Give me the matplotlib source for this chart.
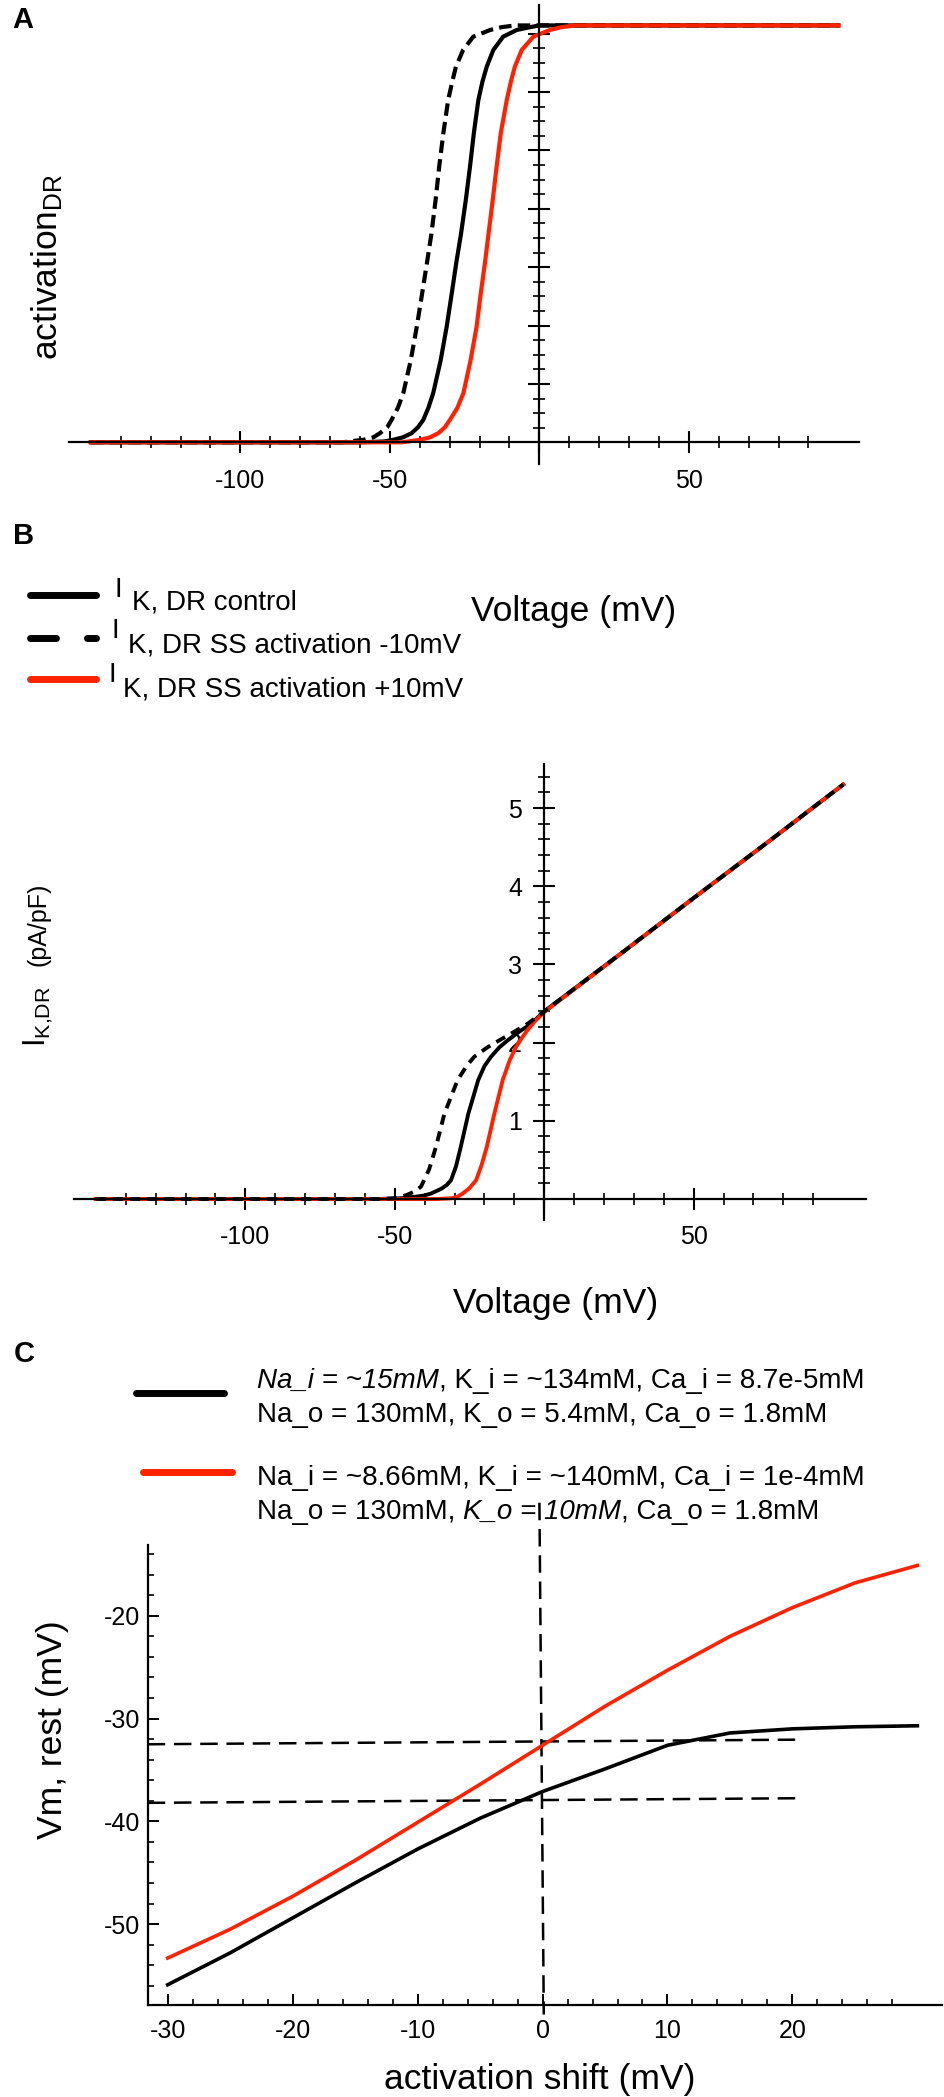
import matplotlib
matplotlib.use("Agg")
import matplotlib.pyplot as plt
from matplotlib.lines import Line2D
from matplotlib.ticker import FixedLocator, FixedFormatter, NullFormatter

plt.rcParams['font.family'] = ['Liberation Sans', 'DejaVu Sans']
plt.rcParams['mathtext.fontset'] = 'custom'
plt.rcParams['mathtext.rm'] = 'Liberation Sans'
plt.rcParams['mathtext.it'] = 'Liberation Sans:italic'
plt.rcParams['mathtext.bf'] = 'Liberation Sans:bold'
plt.rcParams['axes.unicode_minus'] = False

# ---- A: steady-state activation ----
volt_ctrl_a = [-150, -60, -52, -48.9, -45.6, -42.7, -40.6, -38.8, -37.1, -35.5, -33.0, -31.0,
               -29.3, -27.8, -26.2, -24.6, -23.2, -21.9, -20.4, -19.0, -17.6, -15.4, -12.1,
               -7.6, -3.0, 0, 100]
act_ctrl_a = [0, 0, 0.002, 0.006, 0.012, 0.022, 0.036, 0.054, 0.083, 0.118, 0.197, 0.277,
              0.357, 0.430, 0.500, 0.581, 0.661, 0.742, 0.821, 0.866, 0.901, 0.941, 0.973,
              0.989, 0.996, 1.0, 1.0]
volt_minus_a = [-150, -66, -58.9, -55.5, -53.3, -50.9, -49.4, -47.3, -45.5, -43.0, -41.0,
                -39.2, -37.6, -36.1, -34.7, -33.5, -32.1, -30.5, -29.1, -27.9, -25.5, -22.1,
                -16.5, -12.5, -8, 100]
act_minus_a = [0, 0, 0.006, 0.012, 0.022, 0.036, 0.054, 0.083, 0.118, 0.197, 0.277,
               0.357, 0.430, 0.500, 0.581, 0.661, 0.742, 0.821, 0.866, 0.901, 0.941, 0.973,
               0.989, 0.996, 1.0, 1.0]
volt_plus_a = [-150, -46, -39.9, -36.5, -33.8, -31.6, -29.9, -27.4, -25.4, -23.0, -21.0,
               -19.6, -18.2, -17.0, -15.6, -14.3, -12.9, -10.9, -9.5, -8.2, -5.9, -2.0,
               3.5, 7.5, 12, 100]
act_plus_a = [0, 0, 0.006, 0.012, 0.022, 0.036, 0.054, 0.083, 0.118, 0.197, 0.277,
              0.357, 0.430, 0.500, 0.581, 0.661, 0.742, 0.821, 0.866, 0.901, 0.941, 0.973,
              0.989, 0.996, 1.0, 1.0]

# ---- B: I_K,DR (pA/pF) ----
volt_ctrl_b = [-150, -56, -48, -43, -40.2, -37.9, -34.5, -32.6, -31.2, -29.5, -27.9, -25.4,
               -22.1, -20.0, -17.8, -15.0, -12.2, -8.0, -4.4, 0, 25, 50, 75, 100]
cur_ctrl_b = [0, 0, 0.01, 0.03, 0.045, 0.07, 0.13, 0.18, 0.24, 0.42, 0.67, 1.09,
              1.52, 1.70, 1.82, 1.94, 2.03, 2.15, 2.24, 2.40, 3.12, 3.85, 4.57, 5.30]
volt_plus_b = [-150, -36, -31, -29, -27.3, -25, -22.8, -21, -19.2, -16.7, -13.9, -11.5,
               -9.5, -7.5, -5.6, -3.2, -1.1, 0, 25, 50, 75, 100]
cur_plus_b = [0, 0, 0.01, 0.03, 0.07, 0.14, 0.24, 0.43, 0.67, 1.09, 1.52, 1.78,
              1.94, 2.06, 2.16, 2.27, 2.35, 2.39, 3.12, 3.85, 4.57, 5.30]
volt_minus_b = [-150, -55, -50, -47.6, -45.5, -43.2, -41.2, -38.5, -36.2, -33.4, -29.0,
                -26.0, -23.4, -19.0, -15.0, -10.0, -5.6, 0, 25, 50, 75, 100]
cur_minus_b = [0, 0, 0.01, 0.03, 0.06, 0.10, 0.16, 0.38, 0.67, 1.09, 1.52,
               1.70, 1.82, 1.94, 2.03, 2.14, 2.24, 2.40, 3.12, 3.85, 4.57, 5.30]

# ---- C: resting potential vs activation shift ----
shift_c = [-30, -25, -20, -15, -10, -5, 0, 5, 10, 15, 20, 25, 30]
vm_ctrl_c = [-55.9, -52.8, -49.4, -46.0, -42.7, -39.7, -37.1, -34.9, -32.6, -31.4, -31.0, -30.8, -30.7]
vm_highk_c = [-53.3, -50.5, -47.3, -43.8, -40.1, -36.4, -32.6, -28.8, -25.3, -22.0, -19.2, -16.8, -15.1]
guide_hi_x, guide_hi_y = [-31.6, 20.7], [-32.5, -32.05]
guide_lo_x, guide_lo_y = [-31.6, 20.7], [-38.2, -37.75]
guide_v_x, guide_v_y = [-0.25, 0.1], [-9.0, -58.8]

volt_ticks = [-100, -50, 0, 50]
volt_labels = ['-100', '-50', '', '50']

W, H = 945, 2097
RED = '#ff2200'
fig = plt.figure(figsize=(W / 100, H / 100), dpi=100)


def box(b):
    l, t, r, bt = b
    return [l / W, 1 - bt / H, (r - l) / W, (bt - t) / H]


def frac(b, x, y):
    l, t, r, bt = b
    return (x - l) / (r - l), (bt - y) / (bt - t)


def fp(x, y):
    return x / W, 1 - y / H


def cross_axes(ax):
    for s in ('top', 'right'):
        ax.spines[s].set_visible(False)
    for s in ('left', 'bottom'):
        ax.spines[s].set_position(('data', 0))
        ax.spines[s].set_linewidth(1.6)
    ax.tick_params(which='major', direction='inout', length=16, width=1.5, labelsize=18)
    ax.tick_params(which='minor', direction='inout', length=8, width=1.2)
    ax.tick_params(axis='x', which='major', pad=11)
    ax.xaxis.set_major_locator(FixedLocator(volt_ticks))
    ax.xaxis.set_major_formatter(FixedFormatter(volt_labels))
    ax.xaxis.set_minor_locator(FixedLocator([v for v in range(-140, 100, 10) if v % 50]))


# ---------------- A ----------------
BOX_A = (69, 5, 859, 464)
ax_a = fig.add_axes(box(BOX_A))
ax_a.plot(volt_minus_a, act_minus_a, color='k', lw=3, dashes=(3, 1.5))
ax_a.plot(volt_ctrl_a, act_ctrl_a, color='k', lw=3)
ax_a.plot(volt_plus_a, act_plus_a, color=RED, lw=3)
ax_a.set_xlim(-157.3, 106.9)
ax_a.set_ylim(-0.052, 1.049)
cross_axes(ax_a)
ax_a.yaxis.set_major_locator(FixedLocator([0.14 * k for k in range(1, 8)]))
ax_a.yaxis.set_major_formatter(NullFormatter())
ax_a.yaxis.set_minor_locator(FixedLocator([0.035 * k for k in range(1, 29) if k % 4]))
ax_a.set_ylabel(r'activation$_{\mathregular{DR}}$', fontsize=25.5, va='center', ha='center')
ax_a.yaxis.set_label_coords(*frac(BOX_A, 47, 267))
ax_a.set_xlabel('Voltage (mV)', fontsize=25.5, va='center', ha='center')
ax_a.xaxis.set_label_coords(*frac(BOX_A, 574, 611))

# ---------------- B ----------------
BOX_B = (74, 763.6, 865.6, 1220)
ax_b = fig.add_axes(box(BOX_B))
ax_b.plot(volt_ctrl_b, cur_ctrl_b, color='k', lw=2.8)
ax_b.plot(volt_plus_b, cur_plus_b, color=RED, lw=2.8)
ax_b.plot(volt_minus_b, cur_minus_b, color='k', lw=2.8, dashes=(2.6, 1.8))
ax_b.set_xlim(-157.3, 107.5)
ax_b.set_ylim(-0.268, 5.568)
cross_axes(ax_b)
ax_b.yaxis.set_major_locator(FixedLocator([1, 2, 3, 4, 5]))
ax_b.yaxis.set_minor_locator(FixedLocator([0.2 * k for k in range(1, 28) if k % 5]))
ax_b.tick_params(axis='y', which='major', pad=8)
ax_b.set_ylabel(r'I$_{\mathregular{K{,}DR}}$', fontsize=22, va='baseline', ha='left')
ax_b.yaxis.set_label_coords(*frac(BOX_B, 45, 1047))
fig.text(*fp(46, 966), '(pA/pF)', fontsize=18, rotation=90, rotation_mode='anchor',
         ha='left', va='baseline')
ax_b.set_xlabel('Voltage (mV)', fontsize=25.5, va='center', ha='center')
ax_b.xaxis.set_label_coords(*frac(BOX_B, 556, 1303))

# ---------------- C ----------------
BOX_C = (147.7, 1545.2, 942, 2005.4)
ax_c = fig.add_axes(box(BOX_C))
ax_c.set_zorder(5)
ax_c.patch.set_alpha(0)
ax_c.plot(guide_hi_x, guide_hi_y, color='k', lw=1.8, dashes=(7, 3.5))
ax_c.plot(guide_lo_x, guide_lo_y, color='k', lw=1.8, dashes=(7, 3.5))
ax_c.plot(guide_v_x, guide_v_y, color='k', lw=1.8, dashes=(7, 3.5), clip_on=False)
ax_c.plot(shift_c, vm_ctrl_c, color='k', lw=2.6)
ax_c.plot(shift_c, vm_highk_c, color=RED, lw=2.6)
ax_c.set_xlim(-31.6, 31.97)
ax_c.set_ylim(-57.91, -13.13)
for s in ('top', 'right'):
    ax_c.spines[s].set_visible(False)
for s in ('left', 'bottom'):
    ax_c.spines[s].set_linewidth(1.6)
ax_c.tick_params(which='major', direction='in', length=8, width=1.4, labelsize=18)
ax_c.tick_params(which='minor', direction='in', length=4, width=1.2)
ax_c.tick_params(axis='x', which='major', pad=9.5)
ax_c.tick_params(axis='y', which='major', pad=5.5)
ax_c.xaxis.set_major_locator(FixedLocator([-30, -20, -10, 0, 10, 20]))
ax_c.xaxis.set_minor_locator(FixedLocator([v for v in range(-28, 31, 2) if v % 10]))
ax_c.yaxis.set_major_locator(FixedLocator([-50, -40, -30, -20]))
ax_c.yaxis.set_minor_locator(FixedLocator([v for v in range(-56, -13, 2) if v % 10]))
ax_c.set_ylabel('Vm, rest (mV)', fontsize=25.5, va='center', ha='center')
ax_c.yaxis.set_label_coords(*frac(BOX_C, 52, 1730))
ax_c.set_xlabel('activation shift (mV)', fontsize=25.5, va='center', ha='center')
ax_c.xaxis.set_label_coords(*frac(BOX_C, 539.5, 2080))

# ---------------- panel letters ----------------
for letter, (x, y) in zip('ABC', [(23, 28), (24, 544), (24, 1362)]):
    fig.text(*fp(x, y), letter, fontsize=21, fontweight='bold', ha='center', va='baseline')


# ---------------- legends (drawn by hand) ----------------
def swatch(x0, x1, y, **kw):
    fig.add_artist(Line2D([x0 / W, x1 / W], [1 - y / H] * 2, transform=fig.transFigure,
                          solid_capstyle='round', dash_capstyle='round', **kw))


swatch(30.5, 96.5, 594.7, color='k', lw=5)
swatch(30.5, 96.5, 638.4, color='k', lw=5, dashes=(3.74, 4.46))
swatch(30.5, 96.5, 679.4, color=RED, lw=5)

b_items = ['K, DR control', 'K, DR SS activation -10mV', 'K, DR SS activation +10mV']
b_i_pos = [(115, 596.7), (112, 638.4), (109, 682.2)]
b_txt_pos = [(132, 610), (128, 652), (123, 696)]
for lab, (ix, iy), (tx, ty) in zip(b_items, b_i_pos, b_txt_pos):
    fig.text(*fp(ix, iy), 'I', fontsize=20, ha='left', va='baseline')
    fig.text(*fp(tx, ty), lab, fontsize=20, ha='left', va='baseline')

swatch(136.5, 224.5, 1393, color='k', lw=5)
swatch(143.5, 232.5, 1472, color=RED, lw=5)

renderer = fig.canvas.get_renderer()


def width_of(s, style):
    t = fig.text(0, 0, s, fontsize=20, style=style)
    w = t.get_window_extent(renderer).width
    t.remove()
    return w


space_w = width_of('x x', 'normal') - width_of('xx', 'normal')


def runs(x, y, parts):
    for s, style in parts:
        core = s.strip(' ')
        x += (len(s) - len(s.lstrip(' '))) * space_w
        fig.text(*fp(x, y), core, fontsize=20, style=style, ha='left', va='baseline')
        x += width_of(core, style)
        x += (len(s) - len(s.rstrip(' '))) * space_w


runs(257, 1388, [('Na_i = ~15mM', 'italic'), (', K_i = ~134mM, Ca_i = 8.7e-5mM', 'normal')])
runs(257, 1422, [('Na_o = 130mM, K_o = 5.4mM, Ca_o = 1.8mM', 'normal')])
runs(257, 1485, [('Na_i = ~8.66mM, K_i = ~140mM, Ca_i = 1e-4mM', 'normal')])
runs(257, 1519, [('Na_o = 130mM, ', 'normal'), ('K_o = 10mM', 'italic'), (', Ca_o = 1.8mM', 'normal')])

fig.savefig('out.png', dpi=100)
